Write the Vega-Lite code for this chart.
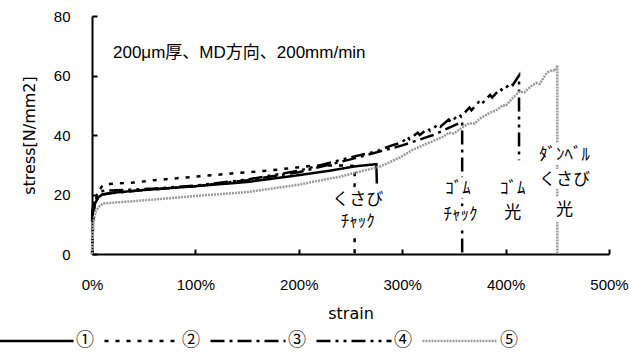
{
  "$schema": "https://vega.github.io/schema/vega-lite/v6.json",
  "width": 517,
  "height": 238,
  "autosize": {"type": "none"},
  "padding": {"left": 92, "top": 16, "right": 21, "bottom": 104},
  "background": "white",
  "config": {
    "view": {"stroke": null},
    "axis": {
      "domainColor": "black",
      "domainWidth": 2,
      "tickColor": "black",
      "tickWidth": 2,
      "grid": false,
      "labelFlush": false,
      "labelFont": "Liberation Sans",
      "labelFontSize": 15,
      "labelColor": "black",
      "titleFont": "DejaVu Sans",
      "titleFontSize": 16,
      "titleFontWeight": "normal",
      "titleColor": "black"
    }
  },
  "datasets": {
    "curves": [
      {"s": "①", "strain": 0, "stress": 11},
      {"s": "①", "strain": 1, "stress": 14},
      {"s": "①", "strain": 3, "stress": 17},
      {"s": "①", "strain": 6, "stress": 19},
      {"s": "①", "strain": 10, "stress": 20},
      {"s": "①", "strain": 20, "stress": 20.6},
      {"s": "①", "strain": 50, "stress": 21.5},
      {"s": "①", "strain": 100, "stress": 22.8},
      {"s": "①", "strain": 150, "stress": 24.2},
      {"s": "①", "strain": 200, "stress": 26.5},
      {"s": "①", "strain": 230, "stress": 28},
      {"s": "①", "strain": 255, "stress": 29.5},
      {"s": "①", "strain": 275, "stress": 30.2},
      {"s": "①", "strain": 275.5, "stress": 23.7},

      {"s": "②", "strain": 0, "stress": 0},
      {"s": "②", "strain": 0.5, "stress": 6},
      {"s": "②", "strain": 2, "stress": 15},
      {"s": "②", "strain": 5, "stress": 20},
      {"s": "②", "strain": 10, "stress": 23},
      {"s": "②", "strain": 14, "stress": 23.5},
      {"s": "②", "strain": 40, "stress": 24},
      {"s": "②", "strain": 60, "stress": 24.8},
      {"s": "②", "strain": 100, "stress": 26},
      {"s": "②", "strain": 143, "stress": 27.3},
      {"s": "②", "strain": 170, "stress": 28},
      {"s": "②", "strain": 211, "stress": 29.6},
      {"s": "②", "strain": 235, "stress": 29.8},
      {"s": "②", "strain": 254, "stress": 29.6},
      {"s": "②", "strain": 254, "stress": 0},

      {"s": "③", "strain": 0, "stress": 12},
      {"s": "③", "strain": 1, "stress": 15},
      {"s": "③", "strain": 3, "stress": 17.5},
      {"s": "③", "strain": 6, "stress": 19},
      {"s": "③", "strain": 10, "stress": 20},
      {"s": "③", "strain": 20, "stress": 20.5},
      {"s": "③", "strain": 50, "stress": 21.5},
      {"s": "③", "strain": 100, "stress": 22.8},
      {"s": "③", "strain": 150, "stress": 24.8},
      {"s": "③", "strain": 200, "stress": 27.5},
      {"s": "③", "strain": 250, "stress": 31.8},
      {"s": "③", "strain": 300, "stress": 36.5},
      {"s": "③", "strain": 330, "stress": 40},
      {"s": "③", "strain": 358, "stress": 44.4},
      {"s": "③", "strain": 358, "stress": 0},

      {"s": "④", "strain": 0, "stress": 13},
      {"s": "④", "strain": 1, "stress": 16},
      {"s": "④", "strain": 3, "stress": 18},
      {"s": "④", "strain": 5, "stress": 20},
      {"s": "④", "strain": 8, "stress": 21},
      {"s": "④", "strain": 12, "stress": 21.3},
      {"s": "④", "strain": 30, "stress": 21.5},
      {"s": "④", "strain": 60, "stress": 22},
      {"s": "④", "strain": 100, "stress": 23},
      {"s": "④", "strain": 150, "stress": 25},
      {"s": "④", "strain": 200, "stress": 28},
      {"s": "④", "strain": 250, "stress": 32.5},
      {"s": "④", "strain": 275, "stress": 34.5},
      {"s": "④", "strain": 290, "stress": 36.5},
      {"s": "④", "strain": 300, "stress": 37.5},
      {"s": "④", "strain": 305, "stress": 39.5},
      {"s": "④", "strain": 307, "stress": 38.6},
      {"s": "④", "strain": 315, "stress": 40.8},
      {"s": "④", "strain": 317, "stress": 40},
      {"s": "④", "strain": 325, "stress": 42.2},
      {"s": "④", "strain": 327, "stress": 41.4},
      {"s": "④", "strain": 335, "stress": 43.6},
      {"s": "④", "strain": 337, "stress": 42.8},
      {"s": "④", "strain": 345, "stress": 45.2},
      {"s": "④", "strain": 347, "stress": 44.3},
      {"s": "④", "strain": 355, "stress": 47},
      {"s": "④", "strain": 357, "stress": 46.2},
      {"s": "④", "strain": 365, "stress": 49.2},
      {"s": "④", "strain": 367, "stress": 48.3},
      {"s": "④", "strain": 375, "stress": 51.5},
      {"s": "④", "strain": 377, "stress": 50.5},
      {"s": "④", "strain": 385, "stress": 53.5},
      {"s": "④", "strain": 387, "stress": 52.6},
      {"s": "④", "strain": 395, "stress": 55.6},
      {"s": "④", "strain": 397, "stress": 54.8},
      {"s": "④", "strain": 405, "stress": 57.5},
      {"s": "④", "strain": 407, "stress": 56.8},
      {"s": "④", "strain": 412, "stress": 59.5},
      {"s": "④", "strain": 413, "stress": 60},
      {"s": "④", "strain": 413, "stress": 31.5},

      {"s": "⑤", "strain": 0, "stress": 0},
      {"s": "⑤", "strain": 0.5, "stress": 6},
      {"s": "⑤", "strain": 1, "stress": 9},
      {"s": "⑤", "strain": 2, "stress": 12},
      {"s": "⑤", "strain": 4, "stress": 14.5},
      {"s": "⑤", "strain": 7, "stress": 16},
      {"s": "⑤", "strain": 11, "stress": 17},
      {"s": "⑤", "strain": 30, "stress": 17.5},
      {"s": "⑤", "strain": 60, "stress": 18.3},
      {"s": "⑤", "strain": 100, "stress": 19.5},
      {"s": "⑤", "strain": 150, "stress": 20.8},
      {"s": "⑤", "strain": 200, "stress": 23.3},
      {"s": "⑤", "strain": 217, "stress": 24.5},
      {"s": "⑤", "strain": 240, "stress": 26},
      {"s": "⑤", "strain": 260, "stress": 27.8},
      {"s": "⑤", "strain": 278, "stress": 29.3},
      {"s": "⑤", "strain": 298, "stress": 32.5},
      {"s": "⑤", "strain": 310, "stress": 35},
      {"s": "⑤", "strain": 320, "stress": 36.5},
      {"s": "⑤", "strain": 330, "stress": 38},
      {"s": "⑤", "strain": 340, "stress": 39.5},
      {"s": "⑤", "strain": 345, "stress": 40.8},
      {"s": "⑤", "strain": 350, "stress": 40.5},
      {"s": "⑤", "strain": 358, "stress": 42.5},
      {"s": "⑤", "strain": 365, "stress": 44},
      {"s": "⑤", "strain": 370, "stress": 43.8},
      {"s": "⑤", "strain": 375, "stress": 45.5},
      {"s": "⑤", "strain": 385, "stress": 47.5},
      {"s": "⑤", "strain": 392, "stress": 48.5},
      {"s": "⑤", "strain": 397, "stress": 50},
      {"s": "⑤", "strain": 400, "stress": 49.8},
      {"s": "⑤", "strain": 407, "stress": 52.5},
      {"s": "⑤", "strain": 413, "stress": 54.5},
      {"s": "⑤", "strain": 418, "stress": 54.3},
      {"s": "⑤", "strain": 425, "stress": 56.5},
      {"s": "⑤", "strain": 430, "stress": 57.5},
      {"s": "⑤", "strain": 433, "stress": 57.2},
      {"s": "⑤", "strain": 440, "stress": 61},
      {"s": "⑤", "strain": 445, "stress": 61.8},
      {"s": "⑤", "strain": 448, "stress": 61.6},
      {"s": "⑤", "strain": 450, "stress": 63.5},
      {"s": "⑤", "strain": 450, "stress": 0}
    ],
    "notes": [
      {"label": "くさび", "strain": 257, "stress": 18.2},
      {"label": "ﾁｬｯｸ", "strain": 257, "stress": 10.8},
      {"label": "ｺﾞﾑ", "strain": 354, "stress": 21.8},
      {"label": "ﾁｬｯｸ", "strain": 356.5, "stress": 13.1},
      {"label": "ｺﾞﾑ", "strain": 407, "stress": 21.8},
      {"label": "光", "strain": 407, "stress": 13.8},
      {"label": "ﾀﾞﾝﾍﾞﾙ", "strain": 457, "stress": 33.3},
      {"label": "くさび", "strain": 457, "stress": 24.9},
      {"label": "光", "strain": 457, "stress": 14.8}
    ],
    "heading": [
      {"label": "200μm厚、MD方向、200mm/min", "strain": 20.3, "stress": 67.6}
    ]
  },
  "layer": [
    {
      "data": {"name": "curves"},
      "mark": {"type": "line", "strokeWidth": 2.5, "strokeCap": "butt"},
      "encoding": {
        "x": {
          "field": "strain",
          "type": "quantitative",
          "scale": {"domain": [0, 500], "nice": false},
          "axis": {
            "title": "strain",
            "values": [0, 100, 200, 300, 400, 500],
            "labelExpr": "datum.value + '%'",
            "tickSize": -5,
            "labelPadding": 28,
            "titlePadding": 13
          }
        },
        "y": {
          "field": "stress",
          "type": "quantitative",
          "scale": {"domain": [0, 80], "nice": false},
          "axis": {
            "title": "stress[N/mm2]",
            "values": [0, 20, 40, 60, 80],
            "tickSize": -5,
            "labelPadding": 27,
            "titlePadding": 16
          }
        },
        "color": {
          "field": "s",
          "type": "nominal",
          "scale": {
            "domain": ["①", "②", "③", "④", "⑤"],
            "range": ["black", "black", "black", "black", "#9a9a9a"]
          },
          "legend": {
            "title": null,
            "orient": "none",
            "legendX": -95,
            "legendY": 286,
            "direction": "horizontal",
            "symbolType": "stroke",
            "symbolSize": 5625,
            "symbolStrokeWidth": 2.5,
            "labelFont": "Noto Sans CJK JP",
            "labelFontSize": 18,
            "labelColor": "black",
            "labelOffset": 1,
            "columnPadding": 5
          }
        },
        "strokeDash": {
          "field": "s",
          "type": "nominal",
          "scale": {
            "domain": ["①", "②", "③", "④", "⑤"],
            "range": [[1, 0], [4, 7], [14, 5, 3, 5], [14, 5, 3, 5, 3, 5], [2, 1]]
          },
          "legend": {
            "title": null,
            "orient": "none",
            "legendX": -95,
            "legendY": 286,
            "direction": "horizontal",
            "symbolType": "stroke",
            "symbolSize": 5625,
            "symbolStrokeWidth": 2.5,
            "labelFont": "Noto Sans CJK JP",
            "labelFontSize": 18,
            "labelColor": "black",
            "labelOffset": 1,
            "columnPadding": 5
          }
        },
        "order": {"value": null}
      }
    },
    {
      "data": {"name": "notes"},
      "mark": {
        "type": "text",
        "font": "Noto Sans CJK JP",
        "fontSize": 17,
        "stroke": "white",
        "strokeWidth": 10,
        "strokeJoin": "round",
        "fill": "white"
      },
      "encoding": {
        "x": {"field": "strain", "type": "quantitative"},
        "y": {"field": "stress", "type": "quantitative"},
        "text": {"field": "label"}
      }
    },
    {
      "data": {"name": "notes"},
      "mark": {"type": "text", "font": "Noto Sans CJK JP", "fontSize": 17, "fill": "black"},
      "encoding": {
        "x": {"field": "strain", "type": "quantitative"},
        "y": {"field": "stress", "type": "quantitative"},
        "text": {"field": "label"}
      }
    },
    {
      "data": {"name": "heading"},
      "mark": {"type": "text", "font": "Liberation Sans, Noto Sans CJK JP", "fontSize": 17, "align": "left", "fill": "black"},
      "encoding": {
        "x": {"field": "strain", "type": "quantitative"},
        "y": {"field": "stress", "type": "quantitative"},
        "text": {"field": "label"}
      }
    }
  ]
}
